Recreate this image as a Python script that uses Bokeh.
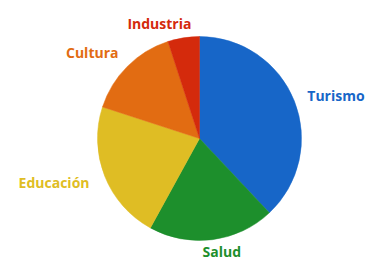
import math
from bokeh.plotting import figure
from bokeh.models import ColumnDataSource, Range1d
from bokeh.embed import file_html
from bokeh.resources import INLINE
from bokeh.core.properties import value

# Data (clockwise from 12 o'clock)
categories = ["Turismo", "Salud", "Educación", "Cultura", "Industria"]
shares = [38, 20, 22, 15, 5]
colors = ["#1766c8", "#1d8f2c", "#dfbd24", "#e26c12", "#d42a0c"]

# Styling / layout
W, H = 368, 261
cx, cy, R = 199, H - 138, 102
label_dist = R + 20
label_offsets = {"Turismo": (23, 2), "Salud": (7, -8), "Educación": (-32, -1),
                 "Cultura": (-21, 0), "Industria": (-21, 5)}

total = float(sum(shares))
starts, ends, lx, ly, xo, yo = [], [], [], [], [], []
cum = 0.0
for c, v in zip(categories, shares):
    t1 = cum / total * 2 * math.pi
    cum += v
    t2 = cum / total * 2 * math.pi
    starts.append(math.pi / 2 - t1)
    ends.append(math.pi / 2 - t2)
    mid = (t1 + t2) / 2
    lx.append(cx + label_dist * math.sin(mid))
    ly.append(cy + label_dist * math.cos(mid))
    xo.append(label_offsets[c][0])
    yo.append(label_offsets[c][1])

src = ColumnDataSource(dict(cat=categories, start=starts, end=ends, color=colors,
                            lx=lx, ly=ly, xo=xo, yo=yo))

p = figure(width=W, height=H, output_backend="svg", toolbar_location=None,
           x_range=Range1d(0, W), y_range=Range1d(0, H), min_border=0)
p.axis.visible = False
p.grid.visible = False
p.outline_line_color = None
p.background_fill_color = "white"

p.wedge(x=cx, y=cy, radius=R, start_angle="start", end_angle="end",
        direction="clock", fill_color="color", line_color="color",
        line_width=0.5, source=src)

p.text(x="lx", y="ly", text="cat", x_offset="xo", y_offset="yo",
       text_color="color", text_font=value("Open Sans"), text_font_style="bold",
       text_font_size="14px", text_align="center", text_baseline="middle",
       source=src)

open("out.html", "w").write(file_html(p, INLINE))
